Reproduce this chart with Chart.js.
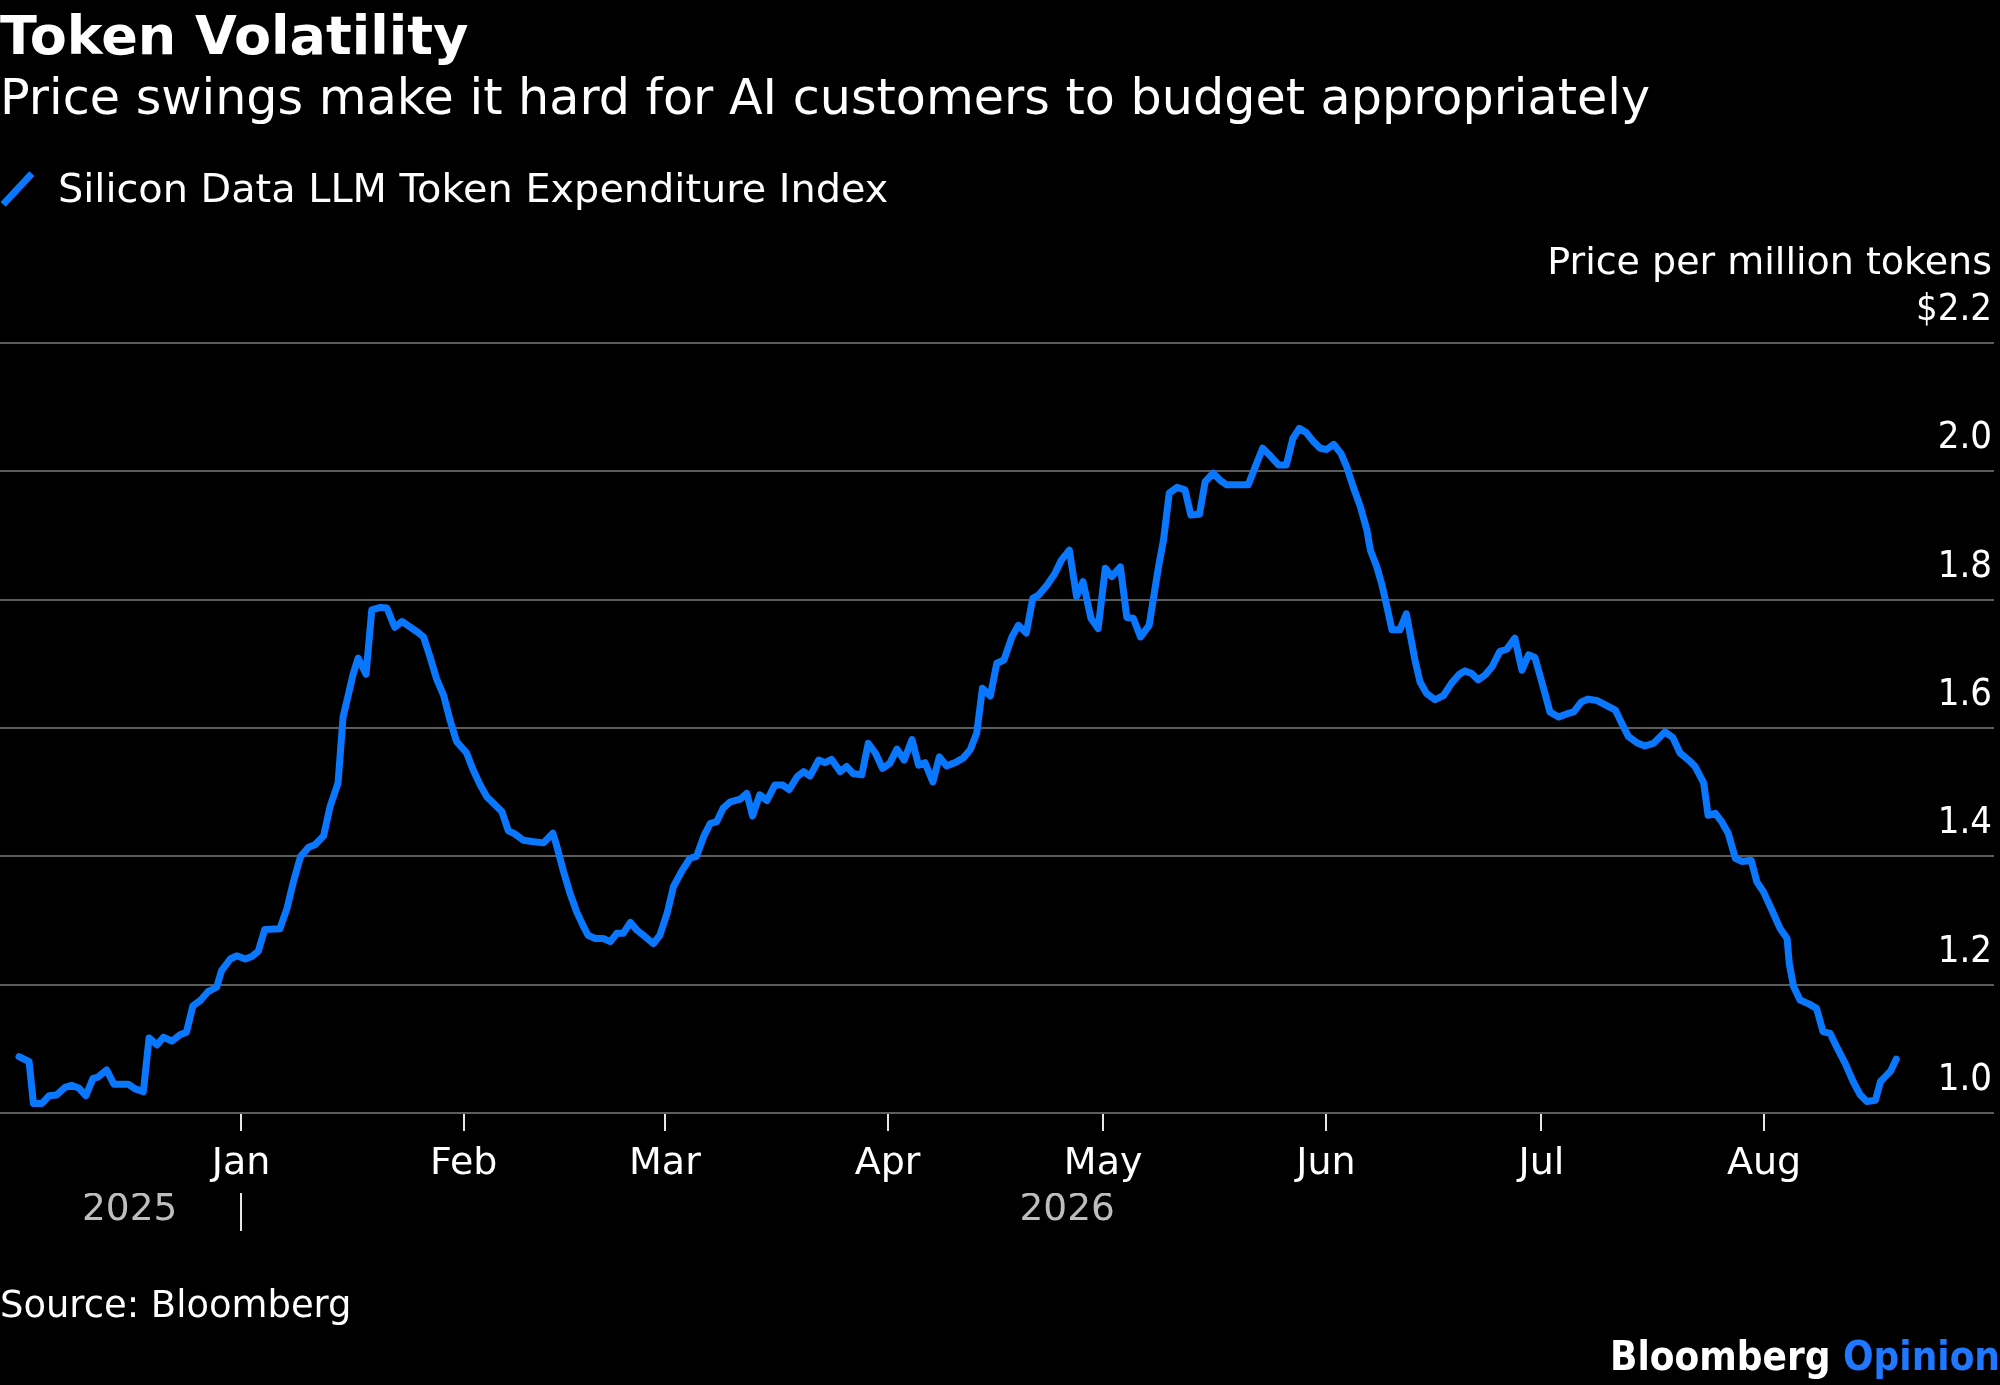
<!DOCTYPE html>
<html>
<head>
<meta charset="utf-8">
<script src="https://cdn.jsdelivr.net/npm/chart.js@4.4.0/dist/chart.umd.min.js"></script>
<style>
  html, body { margin: 0; padding: 0; background: #000; }
  body { width: 2000px; height: 1385px; position: relative; overflow: hidden;
         font-family: "DejaVu Sans", sans-serif; color: #fff; }
  canvas { position: absolute; left: 0; top: 0; }
  .t { position: absolute; white-space: nowrap; line-height: 1; }
  #title { left: 0; top: 9px; font-size: 54px; font-weight: bold; }
  #subtitle { left: 0; top: 73px; font-size: 49.2px; }
  #legend { left: 58px; top: 169px; font-size: 39.8px; }
  #legicon { position: absolute; left: 14px; top: 168px; width: 7px; height: 42px; background: #0a77ff;
             transform: rotate(43deg); }
  #unit { right: 8px; top: 242px; font-size: 38px; text-align: right; }
  #source { left: 0; top: 1287px; font-size: 36.9px; }
  #brand { right: 0; top: 1336px; font-size: 40px; font-weight: bold;
           font-family: "DejaVu Sans Condensed", "DejaVu Sans", sans-serif; }
  #brand span { color: #1f78ff; }
</style>
</head>
<body>
<canvas id="chart" width="2000" height="1385" style="width:2000px;height:1385px;"></canvas>
<div class="t" id="title">Token Volatility</div>
<div class="t" id="subtitle">Price swings make it hard for AI customers to budget appropriately</div>
<div id="legicon"></div>
<div class="t" id="legend">Silicon Data LLM Token Expenditure Index</div>
<div class="t" id="unit">Price per million tokens</div>
<div class="t" id="source">Source: Bloomberg</div>
<div class="t" id="brand">Bloomberg <span>Opinion</span></div>

<script>
// Day offsets relative to 1 Jan 2026 (negative = December 2025)
const days = [
  -30.9, -29.5, -28.9, -27.7, -26.7, -25.7, -24.5, -23.6, -22.6, -21.6,
  -20.6, -19.9, -18.7, -17.7, -15.7, -14.8, -13.6, -12.8, -11.7, -10.8,
  -9.6, -8.5, -7.6, -6.7, -5.7, -4.6, -3.4, -2.7, -1.5, -0.6,
  0.6, 1.5, 2.4, 3.3, 5.4, 6.4, 7.3, 8.3, 9.4, 10.3,
  11.5, 12.4, 13.5, 14.2, 14.9, 15.6, 16.3, 17.4, 18.2, 19.4,
  20.3, 21.4, 22.4, 23.3, 24.5, 25.4, 26.3, 27.2, 28.2, 29.1,
  30.0, 31.4, 32.3, 33.3, 34.2, 35.1, 36.3, 37.2, 38.1, 39.3,
  40.5, 42.1, 43.4, 43.9, 44.9, 45.8, 46.7, 47.7, 48.3, 49.3,
  50.4, 51.4, 52.3, 53.2, 54.2, 55.1, 56.0, 57.4, 58.3, 59.3,
  60.2, 61.3, 62.5, 63.4, 64.4, 65.3, 66.2, 67.1, 68.1, 69.5,
  70.4, 71.2, 72.2, 73.2, 74.3, 75.4, 76.3, 77.4, 78.3, 79.2,
  80.4, 81.3, 82.2, 83.4, 84.3, 85.2, 86.4, 87.3, 88.3, 89.3,
  90.3, 91.3, 92.3, 93.4, 94.3, 95.2, 96.3, 97.2, 98.2, 99.4,
  100.5, 101.5, 102.4, 103.2, 104.3, 105.2, 106.2, 107.3, 108.2, 109.3,
  110.2, 111.0, 112.2, 113.3, 114.2, 115.3, 116.3, 117.2, 118.3, 119.3,
  120.3, 121.2, 122.4, 123.3, 124.2, 125.2, 126.4, 127.7, 128.4, 129.2,
  130.3, 131.4, 132.2, 133.4, 134.2, 135.3, 136.3, 137.2, 138.6, 140.2,
  141.1, 142.2, 143.2, 144.4, 145.5, 146.4, 147.3, 148.3, 149.3, 150.2,
  151.1, 152.1, 153.1, 153.9, 154.8, 155.8, 156.7, 157.2, 158.1, 158.8,
  159.5, 160.2, 161.3, 162.2, 162.7, 163.4, 164.1, 165.0, 166.2, 167.4,
  168.5, 169.6, 170.4, 171.3, 172.2, 173.2, 174.1, 175.2, 176.2, 177.3,
  178.3, 179.2, 180.1, 181.1, 182.2, 183.4, 184.5, 185.5, 186.6, 187.5,
  188.7, 189.9, 191.3, 192.2, 193.1, 194.3, 195.4, 196.6, 198.2, 199.3,
  200.3, 201.5, 202.4, 203.6, 204.2, 205.2, 206.1, 207.0, 208.0, 208.9,
  210.2, 211.0, 211.9, 213.1, 214.2, 215.2, 215.5, 216.1, 217.0, 218.2,
  219.3, 220.2, 221.2, 222.1, 223.3, 224.4, 225.4, 226.3, 227.5, 228.2,
  228.9, 229.6, 230.4
];
// Price per million tokens, USD
const prices = [
  1.088, 1.080, 1.015, 1.015, 1.027, 1.028, 1.040, 1.043, 1.039, 1.027,
  1.054, 1.056, 1.067, 1.045, 1.045, 1.038, 1.033, 1.117, 1.106, 1.118,
  1.112, 1.122, 1.126, 1.167, 1.175, 1.189, 1.196, 1.222, 1.240, 1.245,
  1.240, 1.244, 1.252, 1.286, 1.287, 1.319, 1.361, 1.400, 1.414, 1.418,
  1.432, 1.478, 1.514, 1.617, 1.650, 1.684, 1.709, 1.684, 1.784, 1.788,
  1.787, 1.757, 1.766, 1.759, 1.750, 1.742, 1.711, 1.677, 1.651, 1.612,
  1.579, 1.561, 1.535, 1.511, 1.493, 1.483, 1.470, 1.440, 1.435, 1.425,
  1.423, 1.421, 1.436, 1.418, 1.376, 1.342, 1.314, 1.290, 1.277, 1.272,
  1.272, 1.267, 1.280, 1.280, 1.297, 1.285, 1.277, 1.264, 1.277, 1.311,
  1.353, 1.376, 1.397, 1.400, 1.431, 1.451, 1.454, 1.475, 1.485, 1.489,
  1.498, 1.463, 1.496, 1.487, 1.511, 1.511, 1.504, 1.524, 1.532, 1.525,
  1.550, 1.546, 1.551, 1.532, 1.540, 1.529, 1.527, 1.576, 1.561, 1.537,
  1.545, 1.567, 1.550, 1.582, 1.542, 1.546, 1.516, 1.555, 1.541, 1.546,
  1.553, 1.566, 1.592, 1.662, 1.650, 1.701, 1.706, 1.742, 1.760, 1.748,
  1.802, 1.807, 1.823, 1.841, 1.862, 1.877, 1.805, 1.828, 1.771, 1.755,
  1.849, 1.836, 1.851, 1.772, 1.771, 1.742, 1.760, 1.851, 1.893, 1.966,
  1.975, 1.971, 1.932, 1.933, 1.984, 1.997, 1.986, 1.979, 1.979, 1.979,
  2.005, 2.036, 2.025, 2.010, 2.010, 2.051, 2.067, 2.060, 2.046, 2.036,
  2.034, 2.042, 2.028, 2.007, 1.976, 1.945, 1.909, 1.877, 1.851, 1.823,
  1.789, 1.753, 1.753, 1.778, 1.748, 1.706, 1.672, 1.654, 1.644, 1.651,
  1.670, 1.684, 1.689, 1.685, 1.675, 1.683, 1.695, 1.719, 1.723, 1.740,
  1.690, 1.714, 1.710, 1.670, 1.625, 1.617, 1.622, 1.625, 1.641, 1.645,
  1.643, 1.636, 1.628, 1.607, 1.587, 1.577, 1.572, 1.576, 1.594, 1.585,
  1.561, 1.550, 1.540, 1.514, 1.464, 1.467, 1.454, 1.436, 1.397, 1.392,
  1.394, 1.360, 1.345, 1.316, 1.288, 1.272, 1.233, 1.197, 1.176, 1.170,
  1.163, 1.127, 1.124, 1.103, 1.077, 1.049, 1.028, 1.018, 1.020, 1.049,
  1.057, 1.065, 1.084
];
// Month tick positions (day offsets of the 1st of each month, 2026)
const monthTickDays = [0, 31, 59, 90, 120, 151, 181, 212];
const monthLabels = ['Jan', 'Feb', 'Mar', 'Apr', 'May', 'Jun', 'Jul', 'Aug'];
// Year row: label centres and the year divider at 1 Jan
const yearTickDays = [-15.5, 0, 115];
const yearLabels = ['2025', '', '2026'];
// Value axis
const yMin = 1.0, yMax = 2.2, yStep = 0.2;
const xMin = -33.55, xMax = 244;

const FONT = '"DejaVu Sans", sans-serif';
const FONT_COND = '"DejaVu Sans Condensed", "DejaVu Sans", sans-serif';
Chart.defaults.font.family = FONT;

new Chart(document.getElementById('chart'), {
  type: 'line',
  data: {
    datasets: [{
      label: 'Silicon Data LLM Token Expenditure Index',
      data: days.map((d, i) => ({ x: d, y: prices[i] })),
      borderColor: '#0a77ff',
      borderWidth: 7,
      pointRadius: 0,
      tension: 0,
      borderJoinStyle: 'round',
      borderCapStyle: 'round',
      fill: false,
      xAxisID: 'x',
      yAxisID: 'y'
    }]
  },
  options: {
    responsive: false,
    devicePixelRatio: 1,
    animation: false,
    layout: { padding: { top: 343, left: 0, right: 6, bottom: 132 } },
    plugins: { legend: { display: false }, tooltip: { enabled: false }, title: { display: false } },
    scales: {
      x: {
        type: 'linear', position: 'bottom', min: xMin, max: xMax,
        afterBuildTicks: s => { s.ticks = monthTickDays.map(v => ({ value: v })); },
        afterFit: s => { s.height = 80; },
        ticks: {
          autoSkip: false, maxRotation: 0, minRotation: 0, color: '#ffffff',
          font: { size: 38, family: FONT }, padding: 10,
          callback: (v, i) => monthLabels[i]
        },
        grid: { drawOnChartArea: false, drawTicks: true, tickLength: 18, color: '#e6e6e6', lineWidth: 2 },
        border: { display: false }
      },
      x2: {
        type: 'linear', position: 'bottom', min: xMin, max: xMax,
        afterBuildTicks: s => { s.ticks = yearTickDays.map(v => ({ value: v })); },
        afterFit: s => { s.height = 60; },
        ticks: {
          autoSkip: false, maxRotation: 0, minRotation: 0, color: '#bdbdbd',
          font: { size: 37.5, family: FONT }, padding: -43,
          callback: (v, i) => yearLabels[i]
        },
        grid: {
          drawOnChartArea: false, drawTicks: true, tickLength: 38, lineWidth: 2,
          color: ctx => (ctx.tick && ctx.tick.value === 0) ? '#e6e6e6' : 'rgba(0,0,0,0)'
        },
        border: { display: false }
      },
      y: {
        type: 'linear', position: 'right', min: yMin, max: yMax,
        afterFit: s => { s.width = 0; },
        ticks: {
          stepSize: yStep, mirror: true, padding: -2, labelOffset: -33,
          color: '#ffffff', font: { size: 38, family: FONT_COND },
          callback: v => Math.abs(v - yMax) < 1e-9 ? '$' + v.toFixed(1) : v.toFixed(1)
        },
        grid: { color: '#5c5c5c', lineWidth: 2, drawTicks: false },
        border: { display: false }
      }
    }
  }
});
</script>
</body>
</html>
